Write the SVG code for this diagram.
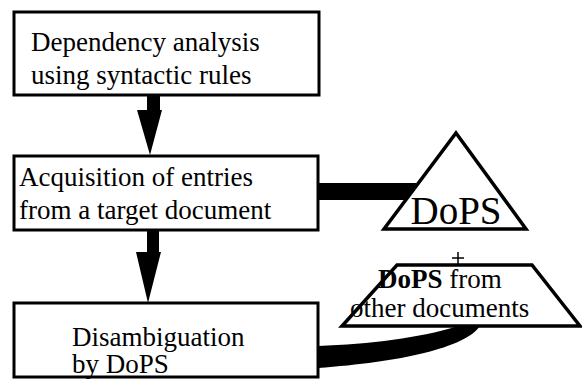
<svg xmlns="http://www.w3.org/2000/svg" width="582" height="379" viewBox="0 0 582 379">
  <style>
    .box { fill: #fff; stroke: #000; stroke-width: 3; }
    .shape { fill: #fff; stroke: #000; stroke-width: 3.5; stroke-linejoin: miter; }
    text { font-family: 'Liberation Serif', 'DejaVu Serif', serif; fill: #000; }
    .lbl { font-size: 27px; }
    .big { font-size: 39px; }
    .flow { fill: #000; stroke: none; }
  </style>
  <rect width="582" height="379" fill="#fff"/>

  <!-- connectors -->
  <g id="connectors">
    <!-- analysis -> acquisition -->
    <polygon class="flow" points="147,95 160,95 160,110 162,110 150,155 137,110 147,110"/>
    <!-- acquisition -> disambiguation -->
    <polygon class="flow" points="147,230 159,230 159,252 161,252 148,303 136,252 147,252"/>
    <!-- acquisition feeds DoPS -->
    <rect class="flow" x="318" y="183" width="98" height="17"/>
    <!-- DoPS from other documents feeds disambiguation -->
    <path class="flow" d="M318,346 C370,344 420,338 458,326 L480,326 C465,348 400,362 318,368 Z"/>
  </g>

  <g id="analysis">
    <rect class="box" x="14" y="12" width="305" height="83"/>
    <text class="lbl" x="31" y="51">Dependency analysis</text>
    <text class="lbl" x="31" y="84">using syntactic rules</text>
  </g>

  <g id="acquisition">
    <rect class="box" x="14" y="156" width="304" height="74"/>
    <text class="lbl" x="19" y="186">Acquisition of entries</text>
    <text class="lbl" x="19" y="219">from a target document</text>
  </g>

  <g id="disambiguation">
    <rect class="box" x="14" y="303" width="304" height="74"/>
    <text class="lbl" x="72" y="346">Disambiguation</text>
    <text class="lbl" x="72" y="373">by DoPS</text>
  </g>

  <g id="dops">
    <polygon class="shape" points="456,133 526,229 384,229"/>
    <text class="big" x="456" y="224" text-anchor="middle">DoPS</text>
  </g>

  <g id="dops-other">
    <polygon class="shape" points="397,265 532,265 580,326 342,326"/>
    <line x1="458" y1="252" x2="458" y2="265" stroke="#000" stroke-width="1.5"/>
    <line x1="452" y1="258" x2="464" y2="258" stroke="#000" stroke-width="1.5"/>
    <text class="lbl" x="378" y="288" font-size="26"><tspan font-weight="bold">DoPS</tspan> from</text>
    <text class="lbl" x="350" y="317" font-size="28">other documents</text>
  </g>
</svg>
